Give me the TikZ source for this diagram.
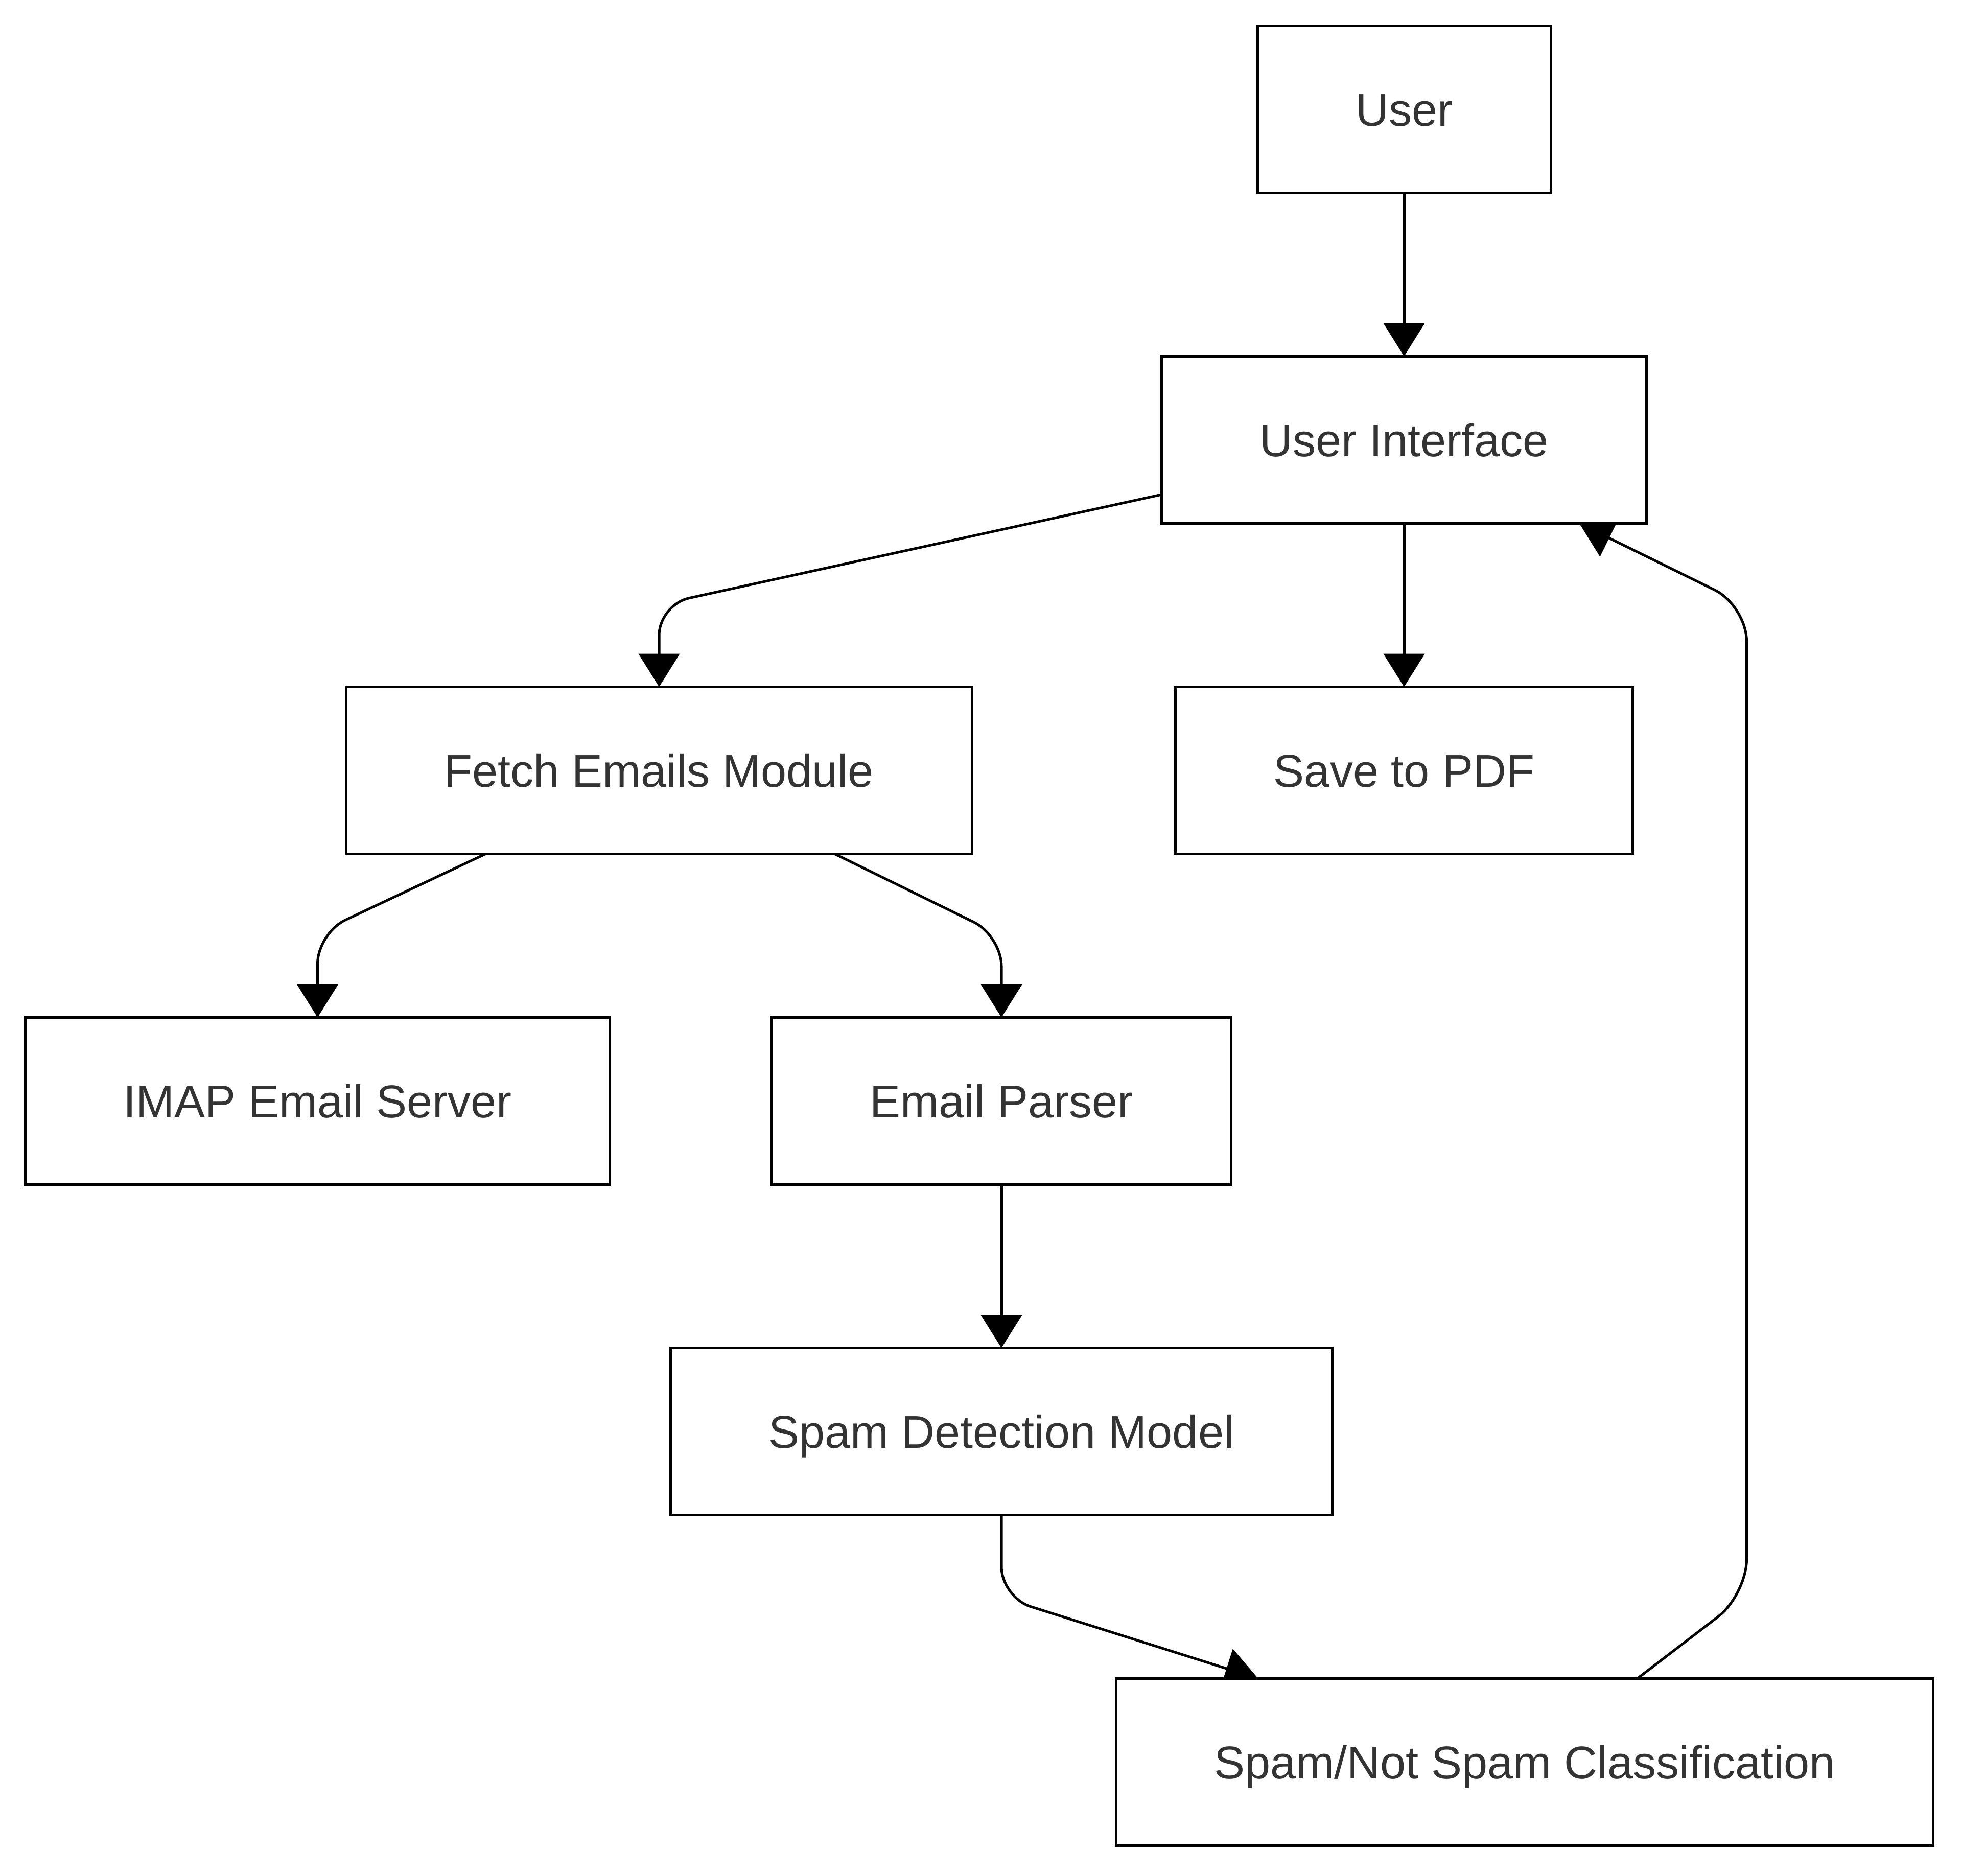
\documentclass[tikz,border=0pt]{standalone}
\usepackage{fontspec}
\setmainfont{Liberation Sans}[Ligatures=CommonOff]
\usepackage{xcolor}
\usepackage{tikz}
\usetikzlibrary{arrows.meta, positioning, backgrounds}
\definecolor{NodeText}{HTML}{333333}

\begin{document}
\begin{tikzpicture}[
  node distance=64pt,
  block/.style={rectangle, draw=black, line width=1pt, fill=white, text=NodeText,
    font=\fontsize{18pt}{21.6pt}\selectfont, inner xsep=38.4pt, inner ysep=0pt,
    minimum height=65.4pt, text height=12.9pt, text depth=0pt, outer sep=0pt},
  arrow/.style={-{Triangle[length=13pt, width=16pt]}, line width=1pt, rounded corners=12pt},
]
\useasboundingbox (0,0) rectangle (768pt,-734.2pt);
\node[block] (user) at (549.6pt,-42.8pt) {User};
\node[block, below=of user] (ui) {User Interface};
\node[block, below=of ui, xshift=-291.6pt] (fetch) {Fetch Emails Module};
\node[block, below=of ui] (pdf) {Save to PDF};
\node[block, below=of fetch, xshift=-133.7pt] (imap) {IMAP Email Server};
\node[block, below=of fetch, xshift=134pt] (parser) {Email Parser};
\node[block, below=of parser] (model) {Spam Detection Model};
\node[block, below=of model, xshift=204.8pt] (cls) {Spam/Not Spam Classification};

\begin{scope}[on background layer]
\draw[arrow] (user) -- (ui);
\draw[arrow] ([yshift=-21.4pt]ui.west) -- ([yshift=32.2pt]fetch.north) -- (fetch.north);
\draw[arrow] (ui) -- (pdf);
\draw[arrow] ([xshift=-68pt]fetch.south) -- ([yshift=33pt]imap.north) -- (imap.north);
\draw[arrow] ([xshift=68.8pt]fetch.south) -- ([yshift=32pt]parser.north) -- (parser.north);
\draw[arrow] (parser) -- (model);
\draw[arrow] (model.south) -- ([yshift=-32.2pt]model.south) -- ([xshift=-104.3pt]cls.north);
\coordinate (back) at ([xshift=86.9pt, yshift=32.8pt]cls.north);
\coordinate (top) at ([yshift=-32.2pt]ui.south);
\draw[arrow, rounded corners=14pt] ([xshift=44.1pt]cls.north) -- (back) -- (top -| back) -- ([xshift=68.6pt]ui.south);
\end{scope}
\end{tikzpicture}
\end{document}
